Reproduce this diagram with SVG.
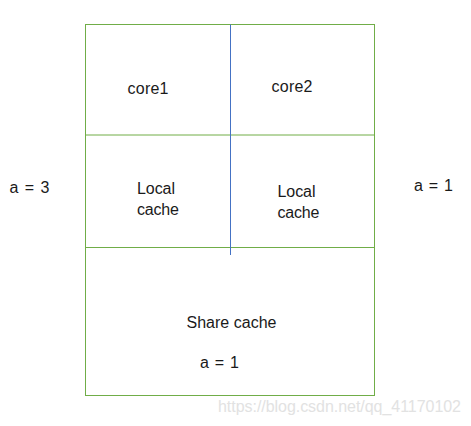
<svg xmlns="http://www.w3.org/2000/svg" width="471" height="426" viewBox="0 0 471 426">
<style>
.box{fill:none;stroke:#70ad47;stroke-width:1}
.div{stroke:#4472c4;stroke-width:1}
.t{font-family:"Liberation Sans",Arial,sans-serif;font-size:16px;fill:#1a1a1a}
.wm{font-family:"Liberation Sans",Arial,sans-serif;font-size:16px;fill:#e2e2e2}
</style>
<rect width="471" height="426" fill="#ffffff"/>
<g id="chip">
<rect class="box" x="85.5" y="24.5" width="289" height="371"/>
</g>
<g id="core1"><rect class="box" x="85.5" y="24.5" width="145" height="110.5"/><text class="t" x="127.5" y="94" textLength="41">core1</text></g>
<g id="core2"><rect class="box" x="230.5" y="24.5" width="144" height="110.5"/><text class="t" x="271.5" y="92" textLength="41">core2</text></g>
<g id="local1"><text class="t" x="137" y="194" textLength="38">Local</text><text class="t" x="137" y="215" textLength="42">cache</text></g>
<g id="local2"><text class="t" x="277.5" y="196.5" textLength="38">Local</text><text class="t" x="277.5" y="217.5" textLength="42">cache</text></g>
<g id="share"><line class="box" x1="85.5" y1="247.5" x2="374.5" y2="247.5"/><text class="t" x="186.5" y="327.5" textLength="90">Share cache</text><text class="t" x="200" y="367.5" textLength="39">a = 1</text></g>
<g id="connectors">
<line class="div" x1="230.5" y1="24.5" x2="230.5" y2="255"/>
</g>
<g id="labels">
<text class="t" x="9.5" y="193" textLength="40">a = 3</text>
<text class="t" x="414" y="190.5" textLength="39">a = 1</text>
</g>
<text class="wm" x="218" y="412" textLength="243">https://blog.csdn.net/qq_41170102</text>
</svg>
